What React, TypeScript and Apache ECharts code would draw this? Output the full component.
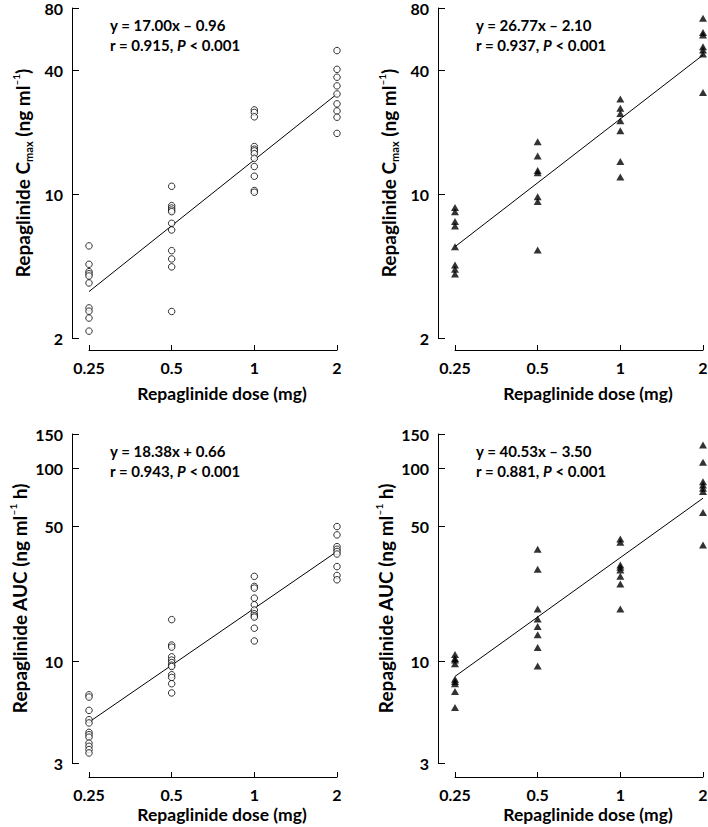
import React, { useEffect, useRef } from 'react';
import * as echarts from 'echarts';

// ---- data ----
const doses = [0.25, 0.5, 1, 2];
const cmaxTicks = [2, 10, 40, 80];
const aucTicks = [3, 10, 50, 100, 150];

// Cmax, open circles (one list per dose)
const cmaxCircles = [
  [5.6, 4.56, 4.2, 4.1, 4.0, 3.7, 2.8, 2.7, 2.5, 2.16],
  [10.9, 8.78, 8.55, 8.36, 8.21, 7.21, 6.69, 5.31, 4.84, 4.43, 2.69],
  [25.6, 24.9, 23.7, 17.0, 16.5, 16.2, 15.7, 14.9, 13.6, 12.2, 10.4, 10.2],
  [49.7, 40.3, 36.9, 33.5, 30.6, 27.4, 25.3, 23.6, 19.7],
];
// Cmax, filled triangles
const cmaxTriangles = [
  [8.6, 8.2, 7.35, 7.0, 5.55, 4.52, 4.31, 4.09],
  [17.95, 15.3, 13.0, 12.7, 9.7, 9.2, 5.35],
  [28.9, 26.1, 24.6, 22.7, 20.3, 14.4, 12.1],
  [71.3, 60.9, 59.1, 51.9, 50.0, 47.8, 31.1],
];
// AUC, open circles
const aucCircles = [
  [6.75, 6.57, 5.61, 5.02, 4.83, 4.32, 4.2, 4.08, 3.8, 3.66, 3.52, 3.38],
  [16.5, 12.2, 11.9, 10.6, 10.2, 9.9, 9.6, 9.45, 8.57, 8.3, 7.7, 6.9],
  [27.6, 24.5, 24.0, 21.3, 19.7, 18.5, 17.7, 17.3, 17.0, 14.9, 12.8],
  [49.9, 45.2, 39.3, 38.1, 37.1, 36.0, 31.0, 27.9, 26.5],
];
// AUC, filled triangles
const aucTriangles = [
  [10.9, 10.4, 10.2, 9.76, 8.13, 7.9, 7.7, 7.03, 5.8],
  [38.1, 30.0, 18.75, 16.6, 15.2, 13.8, 11.85, 9.5],
  [43.1, 41.4, 31.6, 30.8, 29.8, 27.6, 25.2, 18.7],
  [131.6, 107.1, 85.1, 81.8, 78.7, 75.6, 58.9, 40.1],
];

// regression lines (values at the lowest and highest dose)
const fitDoses = [0.25, 2];
const fitCmaxCircles = [3.36, 30.6];
const fitCmaxTriangles = [5.55, 47.3];
const fitAucCircles = [4.88, 37.1];
const fitAucTriangles = [8.4, 69.9];

const eqCmaxCircles = ['y = 17.00x – 0.96', 'r = 0.915, ', ' < 0.001'];
const eqCmaxTriangles = ['y = 26.77x – 2.10', 'r = 0.937, ', ' < 0.001'];
const eqAucCircles = ['y = 18.38x + 0.66', 'r = 0.943, ', ' < 0.001'];
const eqAucTriangles = ['y = 40.53x – 3.50', 'r = 0.881, ', ' < 0.001'];

const FONT = 'Lato';

function toPoints(groups: number[][]) {
  const pts: number[][] = [];
  groups.forEach((vals, i) => vals.forEach((v) => pts.push([doses[i], v])));
  return pts;
}

export default function App() {
  const ref = useRef<HTMLDivElement>(null);

  useEffect(() => {
    if (!ref.current) return;
    const chart = echarts.init(ref.current, null, { renderer: 'svg' });

    const panels = [
      { left: 89, top: 8, height: 330, yMin: 2, yMax: 80, ticks: cmaxTicks, data: cmaxCircles, fit: fitCmaxCircles, eq: eqCmaxCircles, tri: false, kind: 'cmax', xOff: 12, nameGap: 34 },
      { left: 455, top: 8, height: 330, yMin: 2, yMax: 80, ticks: cmaxTicks, data: cmaxTriangles, fit: fitCmaxTriangles, eq: eqCmaxTriangles, tri: true, kind: 'cmax', xOff: 12, nameGap: 34 },
      { left: 89, top: 434, height: 329, yMin: 3, yMax: 150, ticks: aucTicks, data: aucCircles, fit: fitAucCircles, eq: eqAucCircles, tri: false, kind: 'auc', xOff: 14, nameGap: 28 },
      { left: 455, top: 434, height: 329, yMin: 3, yMax: 150, ticks: aucTicks, data: aucTriangles, fit: fitAucTriangles, eq: eqAucTriangles, tri: true, kind: 'auc', xOff: 14, nameGap: 28 },
    ];

    const labelStyle = { color: '#000', fontFamily: FONT, fontWeight: 'bold' as const, fontSize: 16 };
    const nameRich = {
      s: { fontFamily: FONT, fontWeight: 'bold', fontSize: 11, color: '#000', verticalAlign: 'bottom', lineHeight: 23 },
      p: { fontFamily: FONT, fontWeight: 'bold', fontSize: 10, color: '#000', verticalAlign: 'top', lineHeight: 23 },
    };

    const option: any = {
      animation: false,
      backgroundColor: '#fff',
      grid: panels.map((p) => ({ left: p.left, top: p.top, width: 248, height: p.height, outerBoundsMode: 'none', containLabel: false })),
      xAxis: panels.map((p, i) => ({
        type: 'log',
        logBase: 2,
        min: 0.25,
        max: 2,
        gridIndex: i,
        offset: p.xOff,
        axisLine: { show: true, lineStyle: { color: '#000', width: 1 } },
        axisTick: { show: true, inside: true, length: 5, lineStyle: { color: '#000', width: 1 }, customValues: doses },
        axisLabel: { ...labelStyle, margin: 9, customValues: doses, formatter: (v: number) => String(+Number(v).toPrecision(6)) },
        splitLine: { show: false },
        minorTick: { show: false },
        name: 'Repaglinide dose (mg)',
        nameLocation: 'middle',
        nameGap: p.nameGap,
        nameTextStyle: { color: '#000', fontFamily: FONT, fontWeight: 'bold', fontSize: 17.5, padding: [0, 0, 0, 18] },
      })),
      yAxis: panels.map((p, i) => ({
        type: 'log',
        logBase: 10,
        min: p.yMin,
        max: p.yMax,
        gridIndex: i,
        offset: 17,
        axisLine: { show: true, lineStyle: { color: '#000', width: 1 } },
        axisTick: { show: true, inside: true, length: 7, lineStyle: { color: '#000', width: 1 }, customValues: p.ticks },
        axisLabel: { ...labelStyle, margin: 9, customValues: p.ticks, formatter: (v: number) => String(+Number(v).toPrecision(6)) },
        splitLine: { show: false },
        minorTick: { show: false },
        name: p.kind === 'cmax'
          ? 'Repaglinide C{s|max} (ng ml{p|–1})'
          : 'Repaglinide AUC (ng ml{p|–1} h)',
        nameLocation: 'middle',
        nameGap: 38,
        nameTextStyle: { color: '#000', fontFamily: FONT, fontWeight: 'bold', fontSize: 19, lineHeight: 23, rich: nameRich },
      })),
      series: panels.flatMap((p, i) => [
        {
          type: 'line',
          xAxisIndex: i,
          yAxisIndex: i,
          data: fitDoses.map((d, k) => [d, p.fit[k]]),
          showSymbol: false,
          symbol: 'none',
          lineStyle: { color: '#000', width: 1 },
          z: 1,
          silent: true,
        },
        {
          type: 'scatter',
          xAxisIndex: i,
          yAxisIndex: i,
          data: toPoints(p.data),
          symbol: p.tri ? 'triangle' : 'circle',
          symbolSize: p.tri ? [8, 7] : 6.5,
          itemStyle: p.tri
            ? { color: '#000' }
            : { color: '#fff', borderColor: '#000', borderWidth: 1 },
          z: 2,
          silent: true,
        },
      ]),
      graphic: panels.flatMap((p) => [
        {
          type: 'text',
          x: p.left + 21,
          y: p.top + 17,
          style: { text: p.eq[0], fill: '#000', font: `bold 15px ${FONT}`, align: 'left', verticalAlign: 'middle' },
        },
        {
          type: 'text',
          x: p.left + 21,
          y: p.top + 37,
          style: {
            text: `${p.eq[1]}{i|P}${p.eq[2]}`,
            fill: '#000',
            font: `bold 15px ${FONT}`,
            align: 'left',
            verticalAlign: 'middle',
            rich: { i: { fontFamily: FONT, fontWeight: 'bold', fontStyle: 'italic', fontSize: 15, fill: '#000' } },
          },
        },
      ]),
    };

    chart.setOption(option);
    return () => chart.dispose();
  }, []);

  return <div ref={ref} style={{ position: 'absolute', left: 0, top: 0, width: 708, height: 827, background: '#fff' }} />;
}
